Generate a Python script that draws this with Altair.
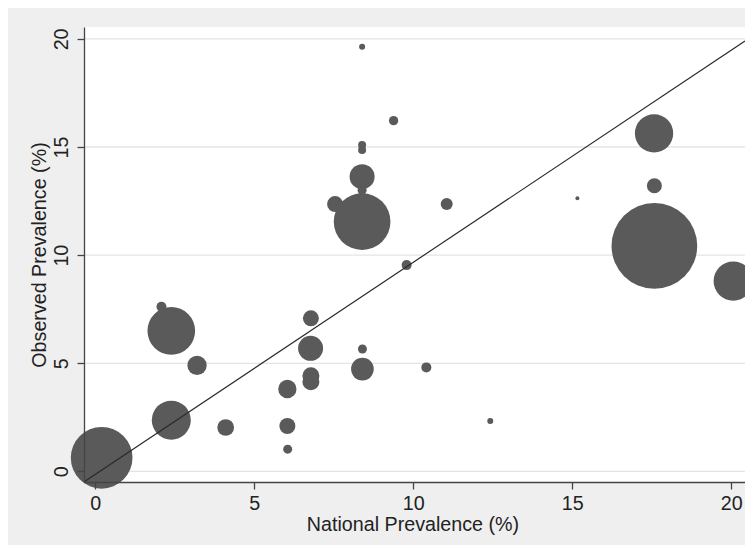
import altair as alt
import pandas as pd

# National prevalence (%), observed prevalence (%), bubble weight
national = [0.2, 2.08, 2.39, 3.2, 2.39, 4.1, 6.04, 6.04, 6.05, 6.78, 6.77, 6.78, 6.78,
            7.54, 8.39, 8.39, 8.39, 8.39, 8.39, 8.39, 8.4, 8.4, 9.38, 9.79, 10.41,
            11.05, 12.42, 15.16, 17.57, 17.58, 17.58, 20.06]
observed = [0.63, 7.61, 6.50, 4.9, 2.37, 2.03, 3.81, 2.1, 1.03, 7.08, 5.69, 4.42, 4.15,
            12.36, 19.64, 15.09, 14.86, 13.63, 13.0, 11.55, 5.66, 4.73, 16.22, 9.54, 4.81,
            12.36, 2.33, 12.63, 15.63, 13.21, 10.43, 8.8]
weight = [3807, 100, 2275, 372, 1521, 279, 335, 256, 81, 256, 625, 289, 289,
          256, 36, 64, 64, 625, 81, 3215, 81, 515, 86, 100, 100,
          144, 36, 16, 1467, 225, 7344, 1544]

ticks = [0, 5, 10, 15, 20]
line_x = [-0.36, 20.43]
line_y = [-0.49, 19.9]

x_domain = [-0.355, 20.43]
y_domain = [-0.49, 20.55]

pts = pd.DataFrame({"x": national, "y": observed, "w": weight})
grid = pd.DataFrame({"y": ticks})
ref = pd.DataFrame({"x": line_x, "y": line_y})

FONT = "Liberation Sans"
FS = 19.7
xs = alt.Scale(domain=x_domain, nice=False, zero=False)
ys = alt.Scale(domain=y_domain, nice=False, zero=False)

x_axis = alt.Axis(
    values=ticks, title="National Prevalence (%)", grid=False,
    domainColor="#454545", domainWidth=1.3, tickColor="#454545", tickWidth=1.3, tickSize=7,
    labelPadding=20, labelBaseline="alphabetic", labelAlign="center", labelAngle=0,
    labelFontSize=FS, labelFont=FONT, labelColor="#222222", labelFlush=False, labelOverlap=False,
    titleFontSize=FS, titleFont=FONT, titleColor="#222222", titleFontWeight="normal",
    titleX=328.5, titleY=48.5, titleBaseline="alphabetic", titleAlign="center",
    format="d", zindex=1,
)
y_axis = alt.Axis(
    values=ticks, title="Observed Prevalence (%)", grid=False,
    domainColor="#454545", domainWidth=1.3, tickColor="#454545", tickWidth=1.3, tickSize=7,
    labelPadding=10, labelBaseline="alphabetic", labelAlign="center", labelAngle=270,
    labelFontSize=FS, labelFont=FONT, labelColor="#222222", labelFlush=False, labelOverlap=False,
    titleFontSize=FS, titleFont=FONT, titleColor="#222222", titleFontWeight="normal",
    titleAngle=270, titleX=-38.5, titleY=227.5, titleBaseline="alphabetic", titleAlign="center",
    format="d", zindex=1,
)

grid_layer = alt.Chart(grid).mark_rule(color="#e4e4e4", strokeWidth=1.3).encode(
    y=alt.Y("y:Q", scale=ys, axis=y_axis)
)

bubbles = alt.Chart(pts).mark_circle(color="#5a5a5a", opacity=1).encode(
    x=alt.X("x:Q", scale=xs, axis=x_axis),
    y=alt.Y("y:Q", scale=ys, axis=y_axis),
    size=alt.Size("w:Q", scale=alt.Scale(type="linear", domain=[0, 7400], range=[0, 7400]), legend=None),
)

line = alt.Chart(ref).mark_line(color="#2a2a2a", strokeWidth=1.2).encode(
    x=alt.X("x:Q", scale=xs, axis=x_axis),
    y=alt.Y("y:Q", scale=ys, axis=y_axis),
)

chart = alt.layer(grid_layer, bubbles, line).properties(
    width=661, height=455,
    autosize=alt.AutoSizeParams(type="none"),
    padding={"left": 76, "top": 19, "right": 0, "bottom": 63},
    background="#efefef",
).configure_view(fill="white", stroke=None)

chart.save("out.html", embed_options={"renderer": "svg", "actions": False})
